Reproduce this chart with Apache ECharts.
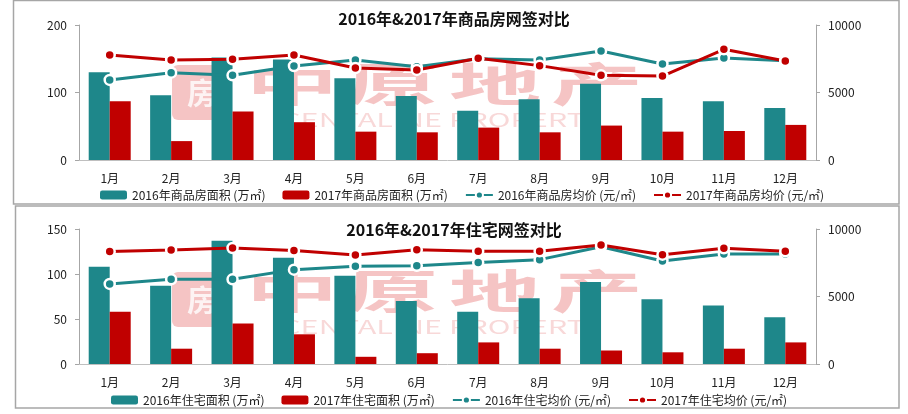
<!DOCTYPE html>
<html><head><meta charset="utf-8">
<script src="https://cdn.jsdelivr.net/npm/echarts@6/dist/echarts.min.js"></script>
<style>html,body{margin:0;padding:0;background:#fff}#c{width:908px;height:414px}</style>
</head><body><div id="c"></div>
<script>
const months = ['1月','2月','3月','4月','5月','6月','7月','8月','9月','10月','11月','12月'];
const titles = ['2016年&2017年商品房网签对比', '2016年&2017年住宅网签对比'];
const commNames = ['2016年商品房面积 (万㎡)', '2017年商品房面积 (万㎡)', '2016年商品房均价 (元/㎡)', '2017年商品房均价 (元/㎡)'];
const resNames = ['2016年住宅面积 (万㎡)', '2017年住宅面积 (万㎡)', '2016年住宅均价 (元/㎡)', '2017年住宅均价 (元/㎡)'];
const commArea2016 = [130, 96, 152, 149, 121, 95, 73, 90, 113, 92, 87, 77];
const commArea2017 = [87, 28, 72, 56, 42, 41, 48, 41, 51, 42, 43, 52];
const commPrice2016 = [5930, 6470, 6270, 6960, 7410, 6910, 7500, 7410, 8070, 7110, 7560, 7360];
const commPrice2017 = [7780, 7410, 7460, 7780, 6810, 6670, 7530, 6990, 6270, 6220, 8200, 7340];
const resArea2016 = [108, 87, 137, 118, 98, 70, 58, 73, 91, 72, 65, 52];
const resArea2017 = [58, 17, 45, 33, 8, 12, 24, 17, 15, 13, 17, 24];
const resPrice2016 = [5930, 6270, 6270, 6990, 7240, 7280, 7510, 7730, 8690, 7630, 8150, 8150];
const resPrice2017 = [8330, 8440, 8590, 8400, 8070, 8470, 8350, 8350, 8810, 8100, 8570, 8350];
const leftTicks = [[0, 200, 100], [0, 150, 50]];
const rightTicks = [0, 10000, 5000];

const TEAL = '#1E878A', RED = '#C00000';
const FONT = '"Noto Sans CJK SC", "Noto Sans", sans-serif';
const chart = echarts.init(document.getElementById('c'), null, {renderer: 'canvas'});

function wm(dy) {
  const pink = 'rgba(222,60,60,0.30)';
  const els = [];
  els.push({type: 'rect', shape: {x: 172, y: 65 + dy, width: 60, height: 55, r: 6}, style: {fill: pink}, z: 0});
  els.push({type: 'text', x: 202, y: 93 + dy, style: {text: '房', font: 'bold 30px ' + FONT, fill: '#fff', align: 'center', verticalAlign: 'middle', opacity: 0.8}, z: 0});
  const chars = ['中', '原', '地', '产'];
  const cx = [292, 392, 495, 597];
  chars.forEach((ch, i) => {
    els.push({type: 'text', x: cx[i], y: 84 + dy, scaleX: 2.0, originX: 0, style: {text: ch, font: 'bold 46px ' + FONT, fill: pink, align: 'center', verticalAlign: 'middle'}, z: 0});
  });
  els.push({type: 'text', x: 441, y: 120 + dy, scaleX: 1.7, style: {text: 'CENTALINE PROPERTY', font: '18px ' + FONT, fill: 'rgba(222,60,60,0.20)', align: 'center', verticalAlign: 'middle'}, z: 0});
  return els;
}

const axisLineStyle = {lineStyle: {color: '#a6a6a6', width: 1}};
function yAx(grid, pos, min, max, interval) {
  return {
    type: 'value', gridIndex: grid, position: pos, min: min, max: max, interval: interval,
    axisLine: {show: true, ...axisLineStyle},
    axisTick: {show: true, length: 4, lineStyle: {color: '#a6a6a6'}},
    splitLine: {show: false},
    axisLabel: {color: '#222', fontSize: 12, fontFamily: FONT, margin: 12, formatter: v => String(v)}
  };
}
function xAx(grid) {
  return {
    type: 'category', gridIndex: grid, data: months,
    axisLine: {show: true, lineStyle: {color: '#bfbfbf', width: 1}},
    axisTick: {show: false},
    axisLabel: {color: '#222', fontSize: 12, fontFamily: FONT, margin: 12}
  };
}
function bar(name, data, color, xi, yi) {
  return {name, type: 'bar', xAxisIndex: xi, yAxisIndex: yi, data, barWidth: 21, barGap: '0%',
    itemStyle: {color}, z: 2};
}
function line(name, data, color, xi, yi) {
  return {name, type: 'line', xAxisIndex: xi, yAxisIndex: yi, data,
    symbol: 'circle', symbolSize: 10, lineStyle: {color, width: 3},
    itemStyle: {color, borderColor: '#fff', borderWidth: 2.5}, z: 3};
}

const option = {
  backgroundColor: '#fff',
  animation: false,
  textStyle: {fontFamily: FONT},
  title: [
    {text: titles[0], left: 'center', top: 6, textStyle: {fontSize: 16, fontWeight: 'bold', color: '#111', fontFamily: FONT}},
    {text: titles[1], left: 'center', top: 217, textStyle: {fontSize: 16, fontWeight: 'bold', color: '#111', fontFamily: FONT}}
  ],
  legend: [
    {data: commNames, left: 95, top: 184, itemWidth: 27, itemHeight: 9, itemGap: 17,
     textStyle: {fontSize: 12, color: '#222', fontFamily: FONT}},
    {data: resNames, left: 106, top: 389, itemWidth: 27, itemHeight: 9, itemGap: 17,
     textStyle: {fontSize: 12, color: '#222', fontFamily: FONT}}
  ],
  grid: [
    {left: 79, right: 92, top: 25, height: 135},
    {left: 79, right: 92, top: 229, height: 135}
  ],
  xAxis: [xAx(0), xAx(1)],
  yAxis: [
    yAx(0, 'left', leftTicks[0][0], leftTicks[0][1], leftTicks[0][2]),
    yAx(0, 'right', rightTicks[0], rightTicks[1], rightTicks[2]),
    yAx(1, 'left', leftTicks[1][0], leftTicks[1][1], leftTicks[1][2]),
    yAx(1, 'right', rightTicks[0], rightTicks[1], rightTicks[2])
  ],
  graphic: [
    {type: 'rect', shape: {x: 13.5, y: 0.5, width: 885.5, height: 203.5}, style: {fill: 'none', stroke: '#a6a6a6', lineWidth: 1.5}, z: 0},
    {type: 'rect', shape: {x: 15.5, y: 206, width: 883.5, height: 202}, style: {fill: 'none', stroke: '#a6a6a6', lineWidth: 1.5}, z: 0},
    ...wm(0), ...wm(207)
  ],
  series: [
    bar(commNames[0], commArea2016, TEAL, 0, 0),
    bar(commNames[1], commArea2017, RED, 0, 0),
    line(commNames[2], commPrice2016, TEAL, 0, 1),
    line(commNames[3], commPrice2017, RED, 0, 1),
    bar(resNames[0], resArea2016, TEAL, 1, 2),
    bar(resNames[1], resArea2017, RED, 1, 2),
    line(resNames[2], resPrice2016, TEAL, 1, 3),
    line(resNames[3], resPrice2017, RED, 1, 3)
  ]
};
chart.setOption(option);
</script></body></html>
